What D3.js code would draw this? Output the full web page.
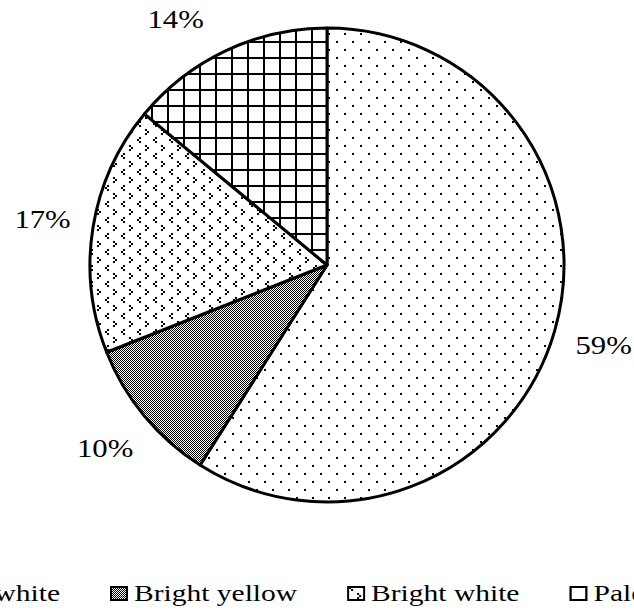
<!DOCTYPE html>
<html>
<head>
<meta charset="utf-8">
<script src="https://cdn.jsdelivr.net/npm/d3@7"></script>
<style>
  body { margin: 0; background: #fff; }
</style>
</head>
<body>
<div id="chart"></div>
<script>
const categories = ["Milky white", "Bright yellow", "Bright white", "Pale yellow"];
const shares = [59, 10, 17, 14];
const patterns = ["dots", "checker", "divot", "grid"];

let width = 634,
height = 614;

let cx = 327, cy = 265, radius = 237;
let serif = "'Times New Roman', Times, 'Liberation Serif', 'DejaVu Serif', serif";
// the source text is drawn a bit wider than plain Times
let stretch = 1.23;

let svg = d3.select("#chart")
.append("svg")
.attr("width", width)
.attr("height", height)

let defs = svg.append("defs")

// excel style pattern fills
function makePatterns() {
  let p = defs.append("pattern")
  .attr("id", "dots")
  .attr("patternUnits", "userSpaceOnUse")
  .attr("width", 16).attr("height", 16)
  p.append("rect").attr("width", 16).attr("height", 16).attr("fill", "#fff")
  p.append("rect").attr("x", 1).attr("y", 8).attr("width", 2).attr("height", 2).attr("fill", "#000")
  p.append("rect").attr("x", 9).attr("y", 0).attr("width", 2).attr("height", 2).attr("fill", "#000")

  p = defs.append("pattern")
  .attr("id", "checker")
  .attr("patternUnits", "userSpaceOnUse")
  .attr("width", 2).attr("height", 2)
  p.append("rect").attr("width", 2).attr("height", 2).attr("fill", "#fff")
  p.append("rect").attr("width", 1).attr("height", 1).attr("fill", "#000")
  p.append("rect").attr("x", 1).attr("y", 1).attr("width", 1).attr("height", 1).attr("fill", "#000")

  p = defs.append("pattern")
  .attr("id", "divot")
  .attr("patternUnits", "userSpaceOnUse")
  .attr("width", 16).attr("height", 16)
  p.append("rect").attr("width", 16).attr("height", 16).attr("fill", "#fff")
  let px = [[4, 0], [2, 2], [4, 4], [10, 8], [12, 10], [10, 12]]
  px.forEach(d => {
    p.append("rect").attr("x", d[0]).attr("y", d[1]).attr("width", 2).attr("height", 2).attr("fill", "#000")
  })

  p = defs.append("pattern")
  .attr("id", "grid")
  .attr("patternUnits", "userSpaceOnUse")
  .attr("width", 16).attr("height", 16)
  p.append("rect").attr("width", 16).attr("height", 16).attr("fill", "#fff")
  p.append("rect").attr("x", 0).attr("y", 0).attr("width", 2).attr("height", 16).attr("fill", "#000")
  p.append("rect").attr("x", 0).attr("y", 0).attr("width", 16).attr("height", 2).attr("fill", "#000")
}

makePatterns()

let pie = d3.pie()
.sort(null)
.value(d => d.value)

let arc = d3.arc()
.innerRadius(0)
.outerRadius(radius)

let data = categories.map((c, i) => ({name: c, value: shares[i], pattern: patterns[i]}))
let arcs = pie(data)

let g = svg.append("g")
.attr("transform", "translate(" + cx + "," + cy + ")")

g.selectAll("path")
.data(arcs)
.enter()
.append("path")
.attr("d", arc)
.attr("fill", d => "url(#" + d.data.pattern + ")")
.attr("stroke", "#000")
.attr("stroke-width", 3)
.attr("stroke-linejoin", "round")

// labels outside the pie, slid along the circle if they would leave the top
let labelR = radius + 51;
let labels = g.selectAll("text.lbl")
.data(arcs)
.enter()
.append("text")
.attr("class", "lbl")
.style("font-family", serif)
.style("font-size", "25px")
.attr("text-anchor", "middle")
.attr("dominant-baseline", "central")
.text(d => d.data.value + "%")

labels.each(function(d) {
  let a = (d.startAngle + d.endAngle) / 2;
  let x = labelR * Math.sin(a);
  let y = -labelR * Math.cos(a);
  let minY = 20 - cy;
  if (y < minY) {
    y = minY;
    x = Math.sign(x) * Math.sqrt(labelR * labelR - y * y);
  }
  d3.select(this).attr("transform", "translate(" + x + "," + y + ") scale(" + stretch + ",1)")
})

// legend
let legend = svg.append("g")
let items = legend.selectAll("g")
.data(data)
.enter()
.append("g")

items.append("rect")
.attr("x", 1)
.attr("width", 16)
.attr("height", 13)
.attr("y", -14)
.attr("fill", d => "url(#" + d.pattern + ")")
.attr("stroke", "#000")
.attr("stroke-width", 2)

items.append("text")
.attr("transform", "translate(24,0) scale(" + stretch + ",1)")
.style("font-family", serif)
.style("font-size", "24px")
.text(d => d.name)

let gap = 50;
let widths = [];
items.each(function() {
  let w = 24 + stretch * d3.select(this).select("text").node().getComputedTextLength();
  widths.push(w);
})
items.attr("transform", (d, i) => {
  let x = d3.sum(widths.slice(0, i)) + gap * i;
  return "translate(" + x + ",0)";
})
let first = widths[0] + gap;
legend.attr("transform", "translate(" + (110 - first) + ",601)")
</script>
</body>
</html>
